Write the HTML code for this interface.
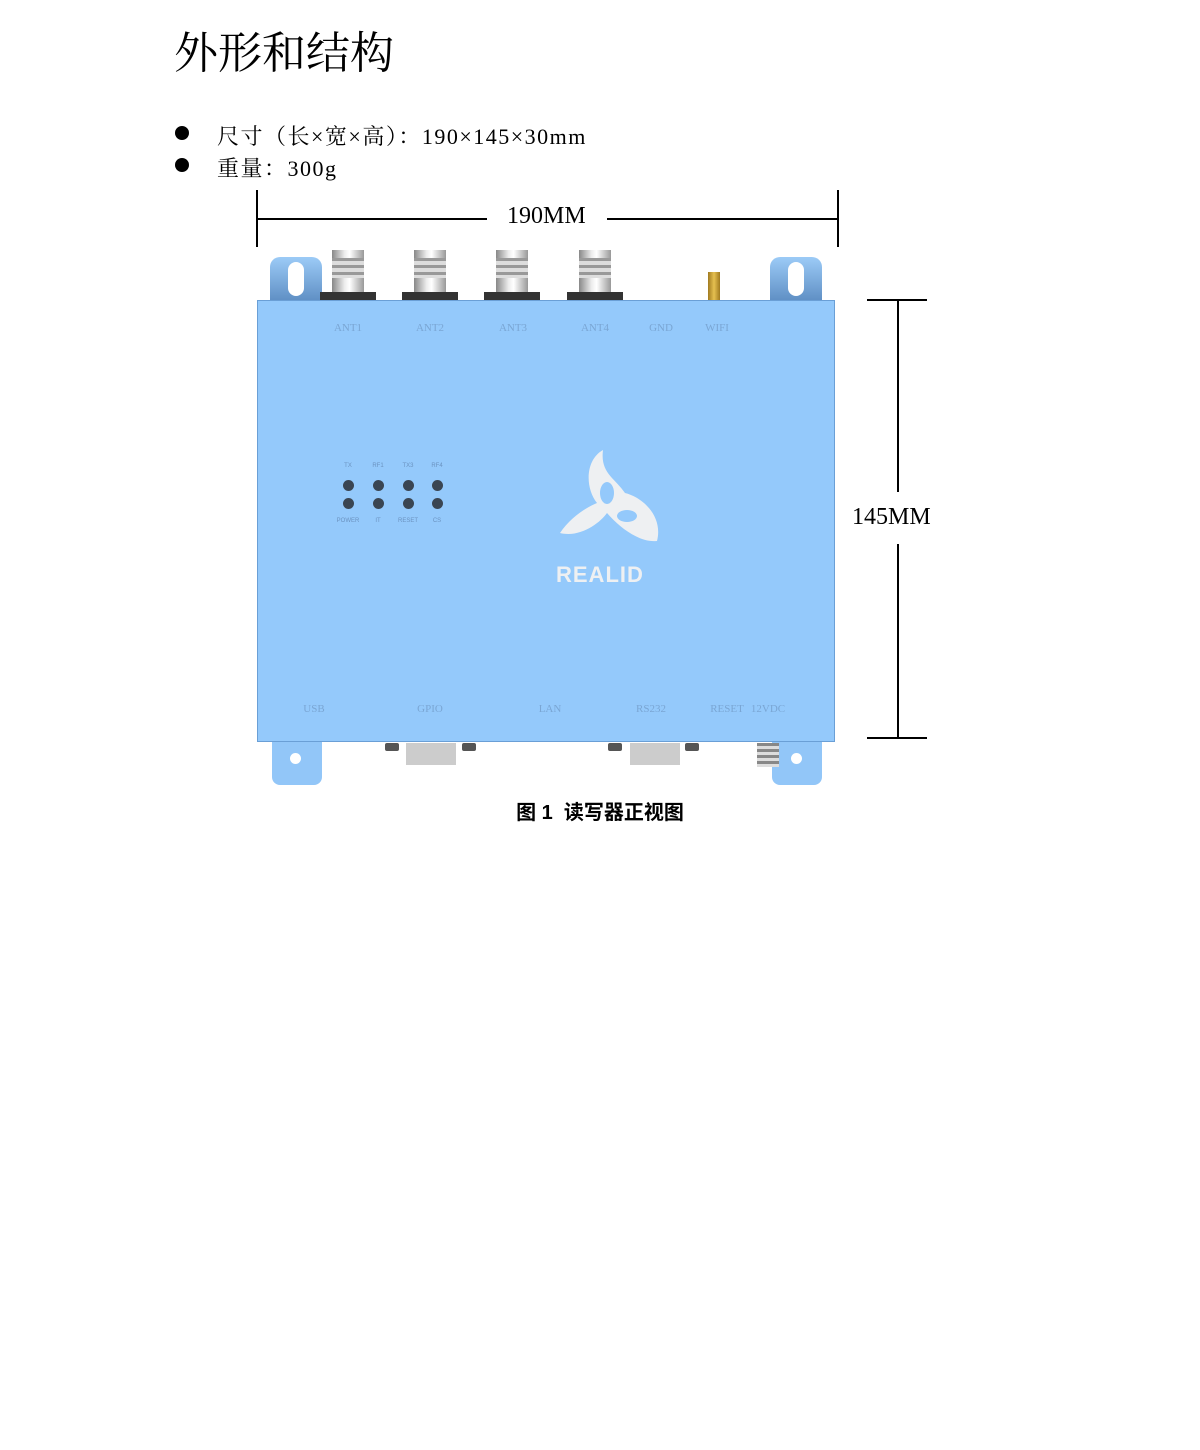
<!DOCTYPE html>
<html><head><meta charset="utf-8"><style>
body{margin:0;width:1200px;height:1450px;background:#fff;position:relative;overflow:hidden;font-family:"Liberation Serif","Noto Serif CJK SC",serif}
.a{position:absolute}
.ln{position:absolute;background:#000}
.lbl{position:absolute;color:#7aa6d4;font-size:11px;font-family:"Liberation Serif",serif;transform:translateX(-50%)}
.led{position:absolute;width:11px;height:11px;border-radius:50%;background:#3a4552}
.sl{position:absolute;color:#6b93c0;font-size:6px;font-family:"Liberation Sans",sans-serif;transform:translateX(-50%)}
.ant{position:absolute;top:250px;width:32px;height:50px;background:linear-gradient(90deg,#888,#eee 40%,#fff 55%,#999);}
.ant:before{content:"";position:absolute;left:-12px;right:-12px;bottom:0;height:8px;background:#333}
.ant:after{content:"";position:absolute;left:0;right:0;top:8px;height:20px;background:repeating-linear-gradient(180deg,#999 0 3px,#ddd 3px 7px)}
</style></head><body>
<div class="a" style="left:174px;top:17px;font-size:44px;font-family:'Liberation Serif','Noto Serif CJK SC',serif">外形和结构</div>
<div class="a" style="left:175px;top:126px;width:14px;height:14px;border-radius:50%;background:#000"></div>
<div class="a" style="left:175px;top:158px;width:14px;height:14px;border-radius:50%;background:#000"></div>
<div class="a" style="left:217px;top:120px;font-size:22px;letter-spacing:1.5px">尺寸（长×宽×高）：190×145×30mm</div>
<div class="a" style="left:217px;top:152px;font-size:22px;letter-spacing:1.5px">重量：300g</div>

<div class="ln" style="left:256px;top:190px;width:2px;height:57px"></div>
<div class="ln" style="left:837px;top:190px;width:2px;height:57px"></div>
<div class="ln" style="left:257px;top:218px;width:230px;height:1.5px"></div>
<div class="ln" style="left:607px;top:218px;width:230px;height:1.5px"></div>
<div class="a" style="left:507px;top:203px;font-size:24px">190MM</div>

<div class="ln" style="left:867px;top:299px;width:60px;height:1.5px"></div>
<div class="ln" style="left:867px;top:737px;width:60px;height:1.5px"></div>
<div class="ln" style="left:897px;top:300px;width:1.5px;height:192px"></div>
<div class="ln" style="left:897px;top:544px;width:1.5px;height:193px"></div>
<div class="a" style="left:852px;top:504px;font-size:24px">145MM</div>

<div class="a" style="left:270px;top:257px;width:52px;height:44px;background:linear-gradient(#9ccbf7,#5f8fc4);border-radius:10px 10px 0 0"></div>
<div class="a" style="left:288px;top:262px;width:16px;height:34px;background:#fff;border-radius:8px"></div>
<div class="a" style="left:770px;top:257px;width:52px;height:44px;background:linear-gradient(#9ccbf7,#5f8fc4);border-radius:10px 10px 0 0"></div>
<div class="a" style="left:788px;top:262px;width:16px;height:34px;background:#fff;border-radius:8px"></div>
<div class="a" style="left:272px;top:740px;width:50px;height:45px;background:#92c6f8;border-radius:0 0 8px 8px"></div>
<div class="a" style="left:290px;top:753px;width:11px;height:11px;background:#fff;border-radius:50%"></div>
<div class="a" style="left:772px;top:740px;width:50px;height:45px;background:#92c6f8;border-radius:0 0 8px 8px"></div>
<div class="a" style="left:791px;top:753px;width:11px;height:11px;background:#fff;border-radius:50%"></div>

<div class="ant" style="left:332px"></div>
<div class="ant" style="left:414px"></div>
<div class="ant" style="left:496px"></div>
<div class="ant" style="left:579px"></div>
<div class="a" style="left:708px;top:272px;width:12px;height:28px;background:linear-gradient(90deg,#a07a20,#e6c050,#a07a20)"></div>

<div class="a" style="left:257px;top:300px;width:576px;height:440px;background:#94c9fb;border:1px solid #6a9fd6"></div>
<div class="lbl" style="left:348px;top:322px">ANT1</div>
<div class="lbl" style="left:430px;top:322px">ANT2</div>
<div class="lbl" style="left:513px;top:322px">ANT3</div>
<div class="lbl" style="left:595px;top:322px">ANT4</div>
<div class="lbl" style="left:661px;top:322px">GND</div>
<div class="lbl" style="left:717px;top:322px">WIFI</div>
<div class="lbl" style="left:314px;top:703px">USB</div>
<div class="lbl" style="left:430px;top:703px">GPIO</div>
<div class="lbl" style="left:550px;top:703px">LAN</div>
<div class="lbl" style="left:651px;top:703px">RS232</div>
<div class="lbl" style="left:727px;top:703px">RESET</div>
<div class="lbl" style="left:768px;top:703px">12VDC</div>

<div class="sl" style="left:348px;top:463px">TX</div><div class="sl" style="left:378px;top:463px">RF1</div><div class="sl" style="left:408px;top:463px">TX3</div><div class="sl" style="left:437px;top:463px">RF4</div>
<div class="led" style="left:343px;top:480px"></div><div class="led" style="left:373px;top:480px"></div><div class="led" style="left:403px;top:480px"></div><div class="led" style="left:432px;top:480px"></div>
<div class="led" style="left:343px;top:498px"></div><div class="led" style="left:373px;top:498px"></div><div class="led" style="left:403px;top:498px"></div><div class="led" style="left:432px;top:498px"></div>
<div class="sl" style="left:348px;top:518px">POWER</div><div class="sl" style="left:378px;top:518px">IT</div><div class="sl" style="left:408px;top:518px">RESET</div><div class="sl" style="left:437px;top:518px">CS</div>

<svg class="a" style="left:555px;top:448px" width="110" height="100" viewBox="0 0 110 100">
<path d="M48 2 C30 12 30 40 42 55 C30 60 15 70 5 85 C25 90 45 75 52 65 C65 80 85 95 102 93 C108 70 90 50 70 45 C60 30 45 25 48 2 Z" fill="#eef0f2"/>
<ellipse cx="52" cy="45" rx="7" ry="11" fill="#94c9fb"/>
<ellipse cx="72" cy="68" rx="10" ry="6" fill="#94c9fb"/>
</svg>
<div class="a" style="left:556px;top:562px;font-size:22px;font-weight:bold;color:#eef0f2;font-family:'Liberation Sans',sans-serif;letter-spacing:1px">REALID</div>

<div class="a" style="left:385px;top:743px;width:14px;height:8px;background:#555;border-radius:2px"></div>
<div class="a" style="left:406px;top:743px;width:50px;height:22px;background:#ccc"></div>
<div class="a" style="left:462px;top:743px;width:14px;height:8px;background:#555;border-radius:2px"></div>
<div class="a" style="left:608px;top:743px;width:14px;height:8px;background:#555;border-radius:2px"></div>
<div class="a" style="left:630px;top:743px;width:50px;height:22px;background:#ccc"></div>
<div class="a" style="left:685px;top:743px;width:14px;height:8px;background:#555;border-radius:2px"></div>
<div class="a" style="left:757px;top:743px;width:22px;height:24px;background:repeating-linear-gradient(180deg,#888 0 3px,#ddd 3px 6px)"></div>

<div class="a" style="left:0;width:1200px;top:796px;text-align:center;font-size:20px;font-weight:bold;font-family:'Liberation Sans','Noto Sans CJK SC',sans-serif">图 1&nbsp; 读写器正视图</div>
</body></html>
